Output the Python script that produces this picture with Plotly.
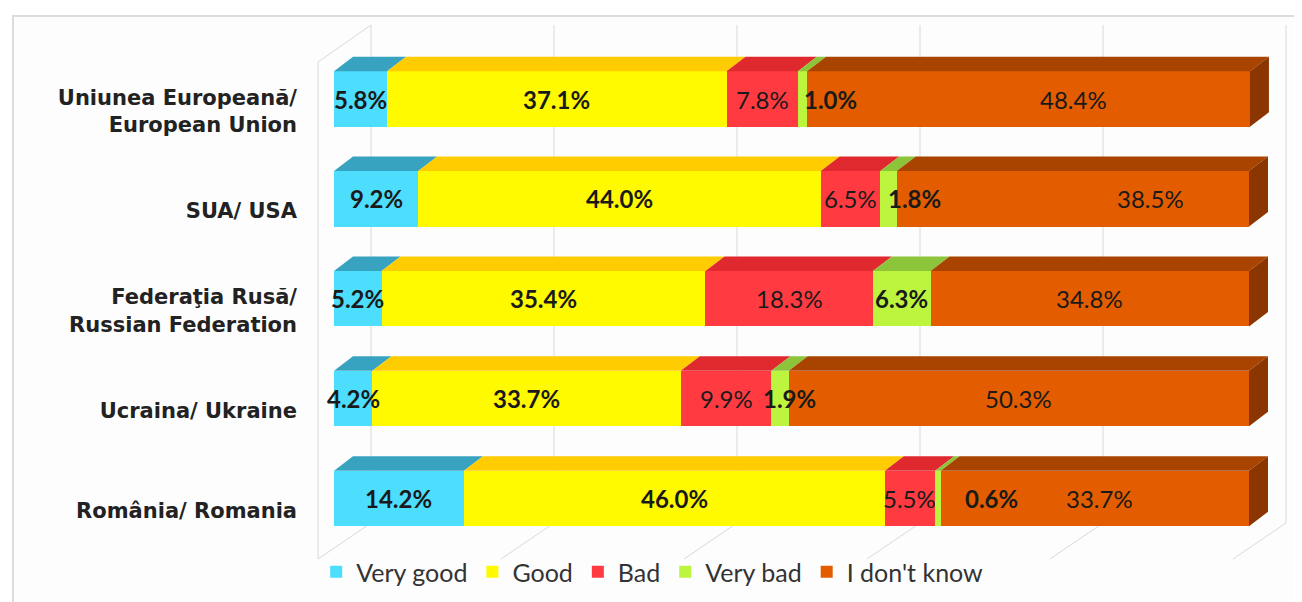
import plotly.graph_objects as go

# ---------------- data ----------------
categories = ["Uniunea Europeană/<br>European Union", "SUA/ USA",
              "Federaţia Rusă/<br>Russian Federation", "Ucraina/ Ukraine",
              "România/ Romania"]
series_names = ["Very good", "Good", "Bad", "Very bad", "I don't know"]
very_good = [5.8, 9.2, 5.2, 4.2, 14.2]
good = [37.1, 44.0, 35.4, 33.7, 46.0]
bad = [7.8, 6.5, 18.3, 9.9, 5.5]
very_bad = [1.0, 1.8, 6.3, 1.9, 0.6]
dont_know = [48.4, 38.5, 34.8, 50.3, 33.7]
grid_ticks = [0, 20, 40, 60, 80, 100]

series_values = [very_good, good, bad, very_bad, dont_know]

# ---------------- style ----------------
front_colors = ["#4DDDFD", "#FFFA00", "#FF3B41", "#BDF43E", "#E35D00"]
top_colors = ["#38A3C0", "#FFCC00", "#E0292E", "#8CC43A", "#A84300"]
side_color = "#8B3500"
label_bold = [True, True, False, True, False]
# horizontal nudges of data labels (percentage units) – purely positional style
label_nudge = {3: [3.1, 2.8, 0.0, 1.0, 5.9], 4: [4.9, 8.5, 0.0, 0.0, 0.5]}

PAGE_OFF = 8                    # browser body margin
W, H = 1302 - PAGE_OFF, 602 - PAGE_OFF
PLOT_L, PLOT_R, PLOT_T, PLOT_B = 302, 1292, 10, 592   # plot area in page pixels
L, T = PLOT_L - PAGE_OFF, PLOT_T - PAGE_OFF
R, B = W - (PLOT_R - PAGE_OFF), H - (PLOT_B - PAGE_OFF)
plot_w, plot_h = PLOT_R - PLOT_L, PLOT_B - PLOT_T

PX_PCT = 9.15      # pixels per percentage point
X0_PX = 334        # page pixel of 0% on bar front plane
ROW_PX = 99.85     # pixels between rows
Y0_PX = 498.4      # page pixel centre of the bottom row
BAR_W = 55.5 / ROW_PX
DEPTH_X, DEPTH_Y = 19 / PX_PCT, 14.5 / ROW_PX
WALL_BACK_DX = 37 / PX_PCT
WALL_FRONT_DX = -16 / PX_PCT


def py(p):
    return (Y0_PX - p) / ROW_PX


WALL_TOP, WALL_BOT, FLOOR_FRONT, LWALL_TOP = py(25), py(523), py(559), py(62)
LABEL_SHIFT = 12 / ROW_PX

n = len(categories)
ypos = [n - 1 - i for i in range(n)]
FONT = "Lato, 'Open Sans', sans-serif"
CAT_FONT = "'DejaVu Sans', 'Open Sans', sans-serif"
GRID = dict(color="#D9D9D9", width=1)

fig = go.Figure()

# walls & gridlines (shapes drawn beneath the bars)
for v in grid_ticks:
    xb = v + WALL_BACK_DX
    xf = v + WALL_FRONT_DX
    fig.add_shape(type="line", x0=xb, x1=xb, y0=WALL_TOP, y1=WALL_BOT, line=GRID, layer="below")
    fig.add_shape(type="line", x0=xb, x1=xf, y0=WALL_BOT, y1=FLOOR_FRONT, line=GRID, layer="below")
fig.add_shape(type="line", x0=WALL_FRONT_DX, x1=WALL_FRONT_DX, y0=FLOOR_FRONT, y1=LWALL_TOP,
              line=GRID, layer="below")
fig.add_shape(type="line", x0=WALL_FRONT_DX, x1=WALL_BACK_DX, y0=LWALL_TOP, y1=WALL_TOP,
              line=GRID, layer="below")

# front faces
for s, (name, vals) in enumerate(zip(series_names, series_values)):
    fig.add_trace(go.Bar(name=name, y=ypos, x=vals, orientation="h", width=BAR_W,
                         marker=dict(color=front_colors[s], line=dict(width=0))))

# 3D top faces and end face
cum = [0.0] * n
for s, vals in enumerate(series_values):
    tx, ty = [], []
    for i, v in enumerate(vals):
        x0, x1 = cum[i], cum[i] + v
        yt = ypos[i] + BAR_W / 2
        tx += [x0, x1, x1 + DEPTH_X, x0 + DEPTH_X, x0, None]
        ty += [yt, yt, yt + DEPTH_Y, yt + DEPTH_Y, yt, None]
    fig.add_trace(go.Scatter(x=tx, y=ty, mode="lines", fill="toself",
                             fillcolor=top_colors[s], line=dict(width=0, color=top_colors[s]),
                             hoverinfo="skip", showlegend=False))
    cum = [c + v for c, v in zip(cum, vals)]

sx, sy = [], []
for i in range(n):
    xe = cum[i]
    yt, yb = ypos[i] + BAR_W / 2, ypos[i] - BAR_W / 2
    sx += [xe, xe, xe + DEPTH_X, xe + DEPTH_X, xe, None]
    sy += [yb, yt, yt + DEPTH_Y, yb + DEPTH_Y, yb, None]
fig.add_trace(go.Scatter(x=sx, y=sy, mode="lines", fill="toself", fillcolor=side_color,
                         line=dict(width=0, color=side_color), hoverinfo="skip", showlegend=False))

# data labels
cum = [0.0] * n
for s, vals in enumerate(series_values):
    for i, v in enumerate(vals):
        xc = cum[i] + v / 2 + label_nudge.get(s, [0] * n)[i]
        txt = f"{v:.1f}%"
        if label_bold[s]:
            txt = f"<b>{txt}</b>"
        fig.add_annotation(x=xc, y=ypos[i], text=txt, showarrow=False,
                           font=dict(family=FONT, size=24, color="#1A1A1A"))
    cum = [c + v for c, v in zip(cum, vals)]

fig.add_shape(type="rect", xref="paper", yref="paper",
              x0=(13 - PLOT_L) / plot_w, x1=1.2, y0=-0.2, y1=(PLOT_B - 16) / plot_h,
              line=dict(color="#DCDCDC", width=2), fillcolor="#FDFDFD", layer="below")

fig.update_layout(
    width=W, height=H,
    margin=dict(l=L, r=R, t=T, b=B, autoexpand=False),
    barmode="stack",
    paper_bgcolor="white", plot_bgcolor="rgba(0,0,0,0)",
    font=dict(family=FONT, color="#262626"),
    xaxis=dict(range=[(PLOT_L - X0_PX) / PX_PCT, (PLOT_R - X0_PX) / PX_PCT],
               showgrid=False, zeroline=False, showticklabels=False, fixedrange=True),
    yaxis=dict(range=[py(PLOT_B), py(PLOT_T)], tickvals=[y - LABEL_SHIFT for y in ypos],
               ticktext=[f"<b>{c}</b>" for c in categories], showgrid=False, zeroline=False,
               tickfont=dict(family=CAT_FONT, size=21, color="#222222"), ticks="",
               ticklabelstandoff=4, fixedrange=True),
    legend=dict(orientation="h", x=(336 - PLOT_L) / plot_w - 0.02, xanchor="left",
                y=(PLOT_B - 572) / plot_h, yanchor="middle",
                font=dict(family=FONT, size=25, color="#333333"),
                bgcolor="rgba(0,0,0,0)", traceorder="normal"),
    showlegend=True,
)

fig.write_html("out.html", config={"displayModeBar": False})
